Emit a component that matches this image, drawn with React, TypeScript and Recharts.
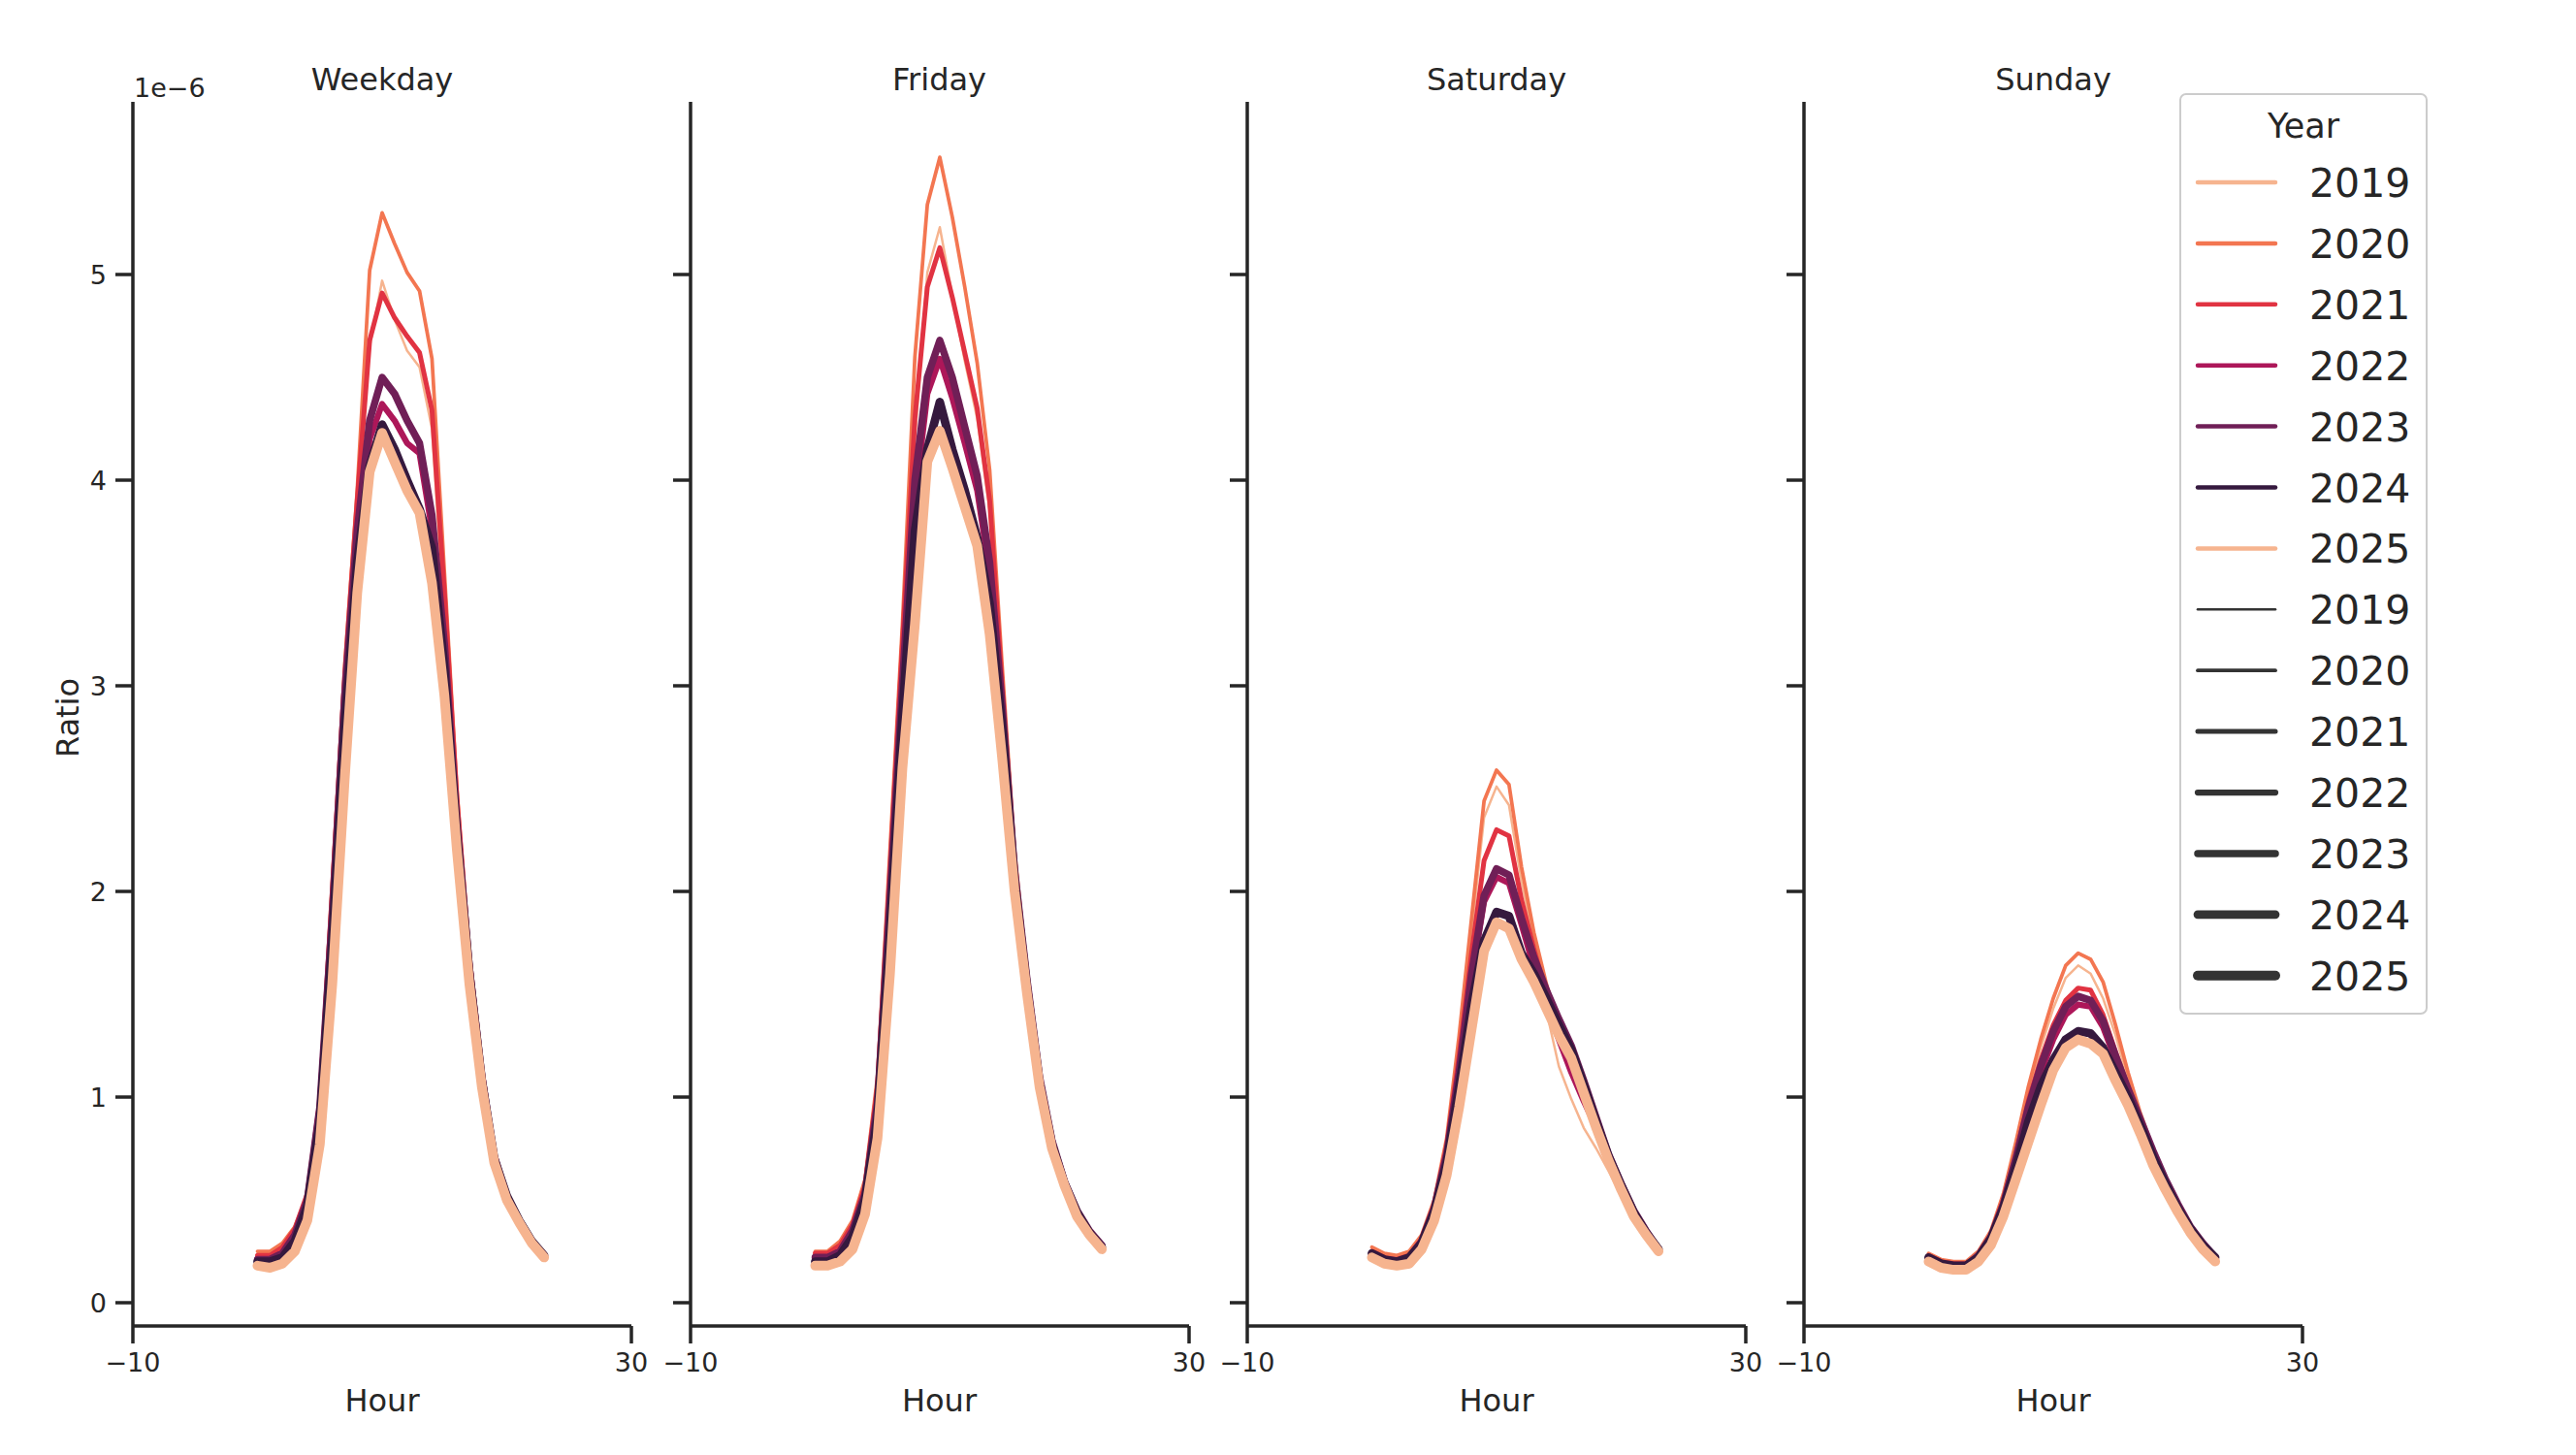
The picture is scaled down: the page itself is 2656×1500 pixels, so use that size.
import React from "react"
import { LineChart, Line, XAxis, YAxis } from "recharts"

// hour of day on the x axis
const hours = [0, 1, 2, 3, 4, 5, 6, 7, 8, 9, 10, 11, 12, 13, 14, 15, 16, 17, 18, 19, 20, 21, 22, 23]
const years = ["2019", "2020", "2021", "2022", "2023", "2024", "2025"]
const yearColors = ["#f6b48f", "#f37651", "#e13342", "#ad1759", "#701f57", "#35193e", "#f6b48f"]
const yearWidths = [2.5, 3.75, 5, 6.25, 7.5, 8.75, 10]
const panelTitles = ["Weekday", "Friday", "Saturday", "Sunday"]
const xTicks = [-10, 30]
const yTicks = [0, 1, 2, 3, 4, 5]

// ratio values (x 1e-6), one row per year 2019..2025
const weekdayRatio = [
    [0.22, 0.21, 0.25, 0.34, 0.55, 1.0, 1.95, 3.0, 3.85, 4.65, 4.97, 4.78, 4.63, 4.55, 4.25, 3.3, 2.4, 1.65, 1.12, 0.72, 0.52, 0.4, 0.3, 0.24],
    [0.25, 0.25, 0.29, 0.37, 0.52, 1.0, 2.05, 3.1, 3.95, 5.02, 5.3, 5.15, 5.01, 4.92, 4.59, 3.55, 2.5, 1.7, 1.15, 0.74, 0.53, 0.4, 0.3, 0.24],
    [0.23, 0.23, 0.27, 0.36, 0.53, 0.98, 2.0, 3.05, 3.9, 4.68, 4.91, 4.79, 4.7, 4.62, 4.34, 3.45, 2.45, 1.68, 1.14, 0.73, 0.53, 0.4, 0.3, 0.24],
    [0.21, 0.21, 0.24, 0.33, 0.5, 0.93, 1.85, 2.85, 3.7, 4.2, 4.37, 4.29, 4.18, 4.13, 3.76, 3.15, 2.3, 1.62, 1.1, 0.71, 0.52, 0.4, 0.3, 0.23],
    [0.21, 0.21, 0.24, 0.33, 0.5, 0.95, 1.88, 2.95, 3.75, 4.29, 4.5, 4.42, 4.29, 4.18, 3.83, 3.2, 2.33, 1.63, 1.1, 0.71, 0.52, 0.4, 0.3, 0.23],
    [0.2, 0.2, 0.22, 0.3, 0.47, 0.88, 1.75, 2.8, 3.6, 4.07, 4.27, 4.15, 4.0, 3.86, 3.67, 3.08, 2.27, 1.6, 1.08, 0.7, 0.52, 0.4, 0.3, 0.23],
    [0.18, 0.17, 0.19, 0.25, 0.4, 0.77, 1.55, 2.55, 3.45, 4.04, 4.23, 4.09, 3.95, 3.84, 3.5, 2.95, 2.2, 1.55, 1.05, 0.68, 0.5, 0.39, 0.29, 0.22],
]

const fridayRatio = [
    [0.23, 0.23, 0.27, 0.36, 0.55, 1.0, 2.0, 3.1, 4.2, 5.01, 5.23, 4.9, 4.58, 4.3, 3.85, 2.95, 2.1, 1.55, 1.08, 0.77, 0.57, 0.43, 0.34, 0.27],
    [0.25, 0.25, 0.3, 0.4, 0.6, 1.1, 2.2, 3.3, 4.6, 5.34, 5.57, 5.28, 4.94, 4.57, 4.05, 3.1, 2.2, 1.6, 1.1, 0.78, 0.58, 0.44, 0.34, 0.27],
    [0.24, 0.24, 0.28, 0.38, 0.57, 1.05, 2.1, 3.2, 4.3, 4.94, 5.13, 4.89, 4.62, 4.35, 3.9, 3.0, 2.15, 1.58, 1.1, 0.78, 0.58, 0.44, 0.34, 0.27],
    [0.21, 0.21, 0.24, 0.34, 0.52, 0.95, 1.9, 2.95, 3.9, 4.42, 4.59, 4.4, 4.18, 3.95, 3.55, 2.85, 2.08, 1.55, 1.08, 0.77, 0.58, 0.44, 0.34, 0.27],
    [0.22, 0.22, 0.25, 0.35, 0.53, 0.97, 1.95, 3.0, 4.0, 4.5, 4.68, 4.5, 4.26, 4.02, 3.6, 2.9, 2.1, 1.57, 1.1, 0.79, 0.59, 0.45, 0.35, 0.28],
    [0.2, 0.2, 0.23, 0.32, 0.5, 0.9, 1.8, 2.85, 3.75, 4.15, 4.38, 4.15, 3.95, 3.72, 3.4, 2.8, 2.05, 1.53, 1.07, 0.77, 0.58, 0.44, 0.34, 0.27],
    [0.18, 0.18, 0.2, 0.26, 0.43, 0.8, 1.6, 2.6, 3.3, 4.09, 4.24, 4.06, 3.87, 3.68, 3.25, 2.65, 2.0, 1.5, 1.05, 0.75, 0.57, 0.42, 0.33, 0.26],
]

const saturdayRatio = [
    [0.26, 0.23, 0.22, 0.24, 0.32, 0.49, 0.78, 1.25, 1.8, 2.36, 2.51, 2.42, 2.05, 1.75, 1.42, 1.15, 0.99, 0.85, 0.75, 0.64, 0.52, 0.4, 0.31, 0.24],
    [0.27, 0.24, 0.23, 0.25, 0.33, 0.5, 0.8, 1.3, 1.87, 2.44, 2.59, 2.52, 2.12, 1.8, 1.55, 1.35, 1.2, 1.03, 0.86, 0.69, 0.55, 0.42, 0.33, 0.25],
    [0.25, 0.22, 0.21, 0.23, 0.31, 0.48, 0.76, 1.2, 1.7, 2.15, 2.3, 2.27, 1.96, 1.72, 1.5, 1.33, 1.2, 1.04, 0.87, 0.7, 0.56, 0.43, 0.34, 0.25],
    [0.23, 0.2, 0.2, 0.22, 0.29, 0.45, 0.7, 1.1, 1.58, 1.95, 2.07, 2.04, 1.84, 1.63, 1.45, 1.28, 1.12, 0.98, 0.85, 0.7, 0.56, 0.44, 0.34, 0.26],
    [0.24, 0.21, 0.2, 0.22, 0.3, 0.46, 0.72, 1.12, 1.6, 1.98, 2.11, 2.08, 1.87, 1.68, 1.52, 1.38, 1.25, 1.08, 0.9, 0.72, 0.58, 0.45, 0.35, 0.26],
    [0.24, 0.21, 0.2, 0.22, 0.29, 0.44, 0.68, 1.05, 1.45, 1.76, 1.9, 1.88, 1.7, 1.6, 1.48, 1.35, 1.23, 1.06, 0.88, 0.71, 0.57, 0.44, 0.34, 0.26],
    [0.22, 0.19, 0.18, 0.19, 0.26, 0.4, 0.62, 0.95, 1.33, 1.71, 1.85, 1.82, 1.67, 1.56, 1.43, 1.3, 1.19, 1.02, 0.85, 0.69, 0.55, 0.42, 0.33, 0.25],
]

const sundayRatio = [
    [0.23, 0.2, 0.19, 0.19, 0.24, 0.34, 0.51, 0.75, 1.01, 1.24, 1.43, 1.58, 1.64, 1.6, 1.48, 1.3, 1.08, 0.9, 0.74, 0.6, 0.47, 0.36, 0.28, 0.21],
    [0.24, 0.21, 0.2, 0.2, 0.25, 0.35, 0.53, 0.78, 1.05, 1.28, 1.48, 1.64, 1.7, 1.67, 1.56, 1.35, 1.12, 0.92, 0.75, 0.6, 0.47, 0.36, 0.28, 0.21],
    [0.23, 0.2, 0.19, 0.19, 0.23, 0.33, 0.5, 0.72, 0.98, 1.18, 1.35, 1.47, 1.53, 1.52, 1.4, 1.22, 1.05, 0.89, 0.73, 0.6, 0.47, 0.36, 0.28, 0.21],
    [0.22, 0.19, 0.18, 0.18, 0.22, 0.31, 0.47, 0.69, 0.93, 1.12, 1.28, 1.4, 1.45, 1.44, 1.34, 1.18, 1.02, 0.87, 0.72, 0.59, 0.47, 0.36, 0.28, 0.22],
    [0.22, 0.19, 0.18, 0.18, 0.23, 0.32, 0.48, 0.7, 0.95, 1.15, 1.32, 1.44, 1.49, 1.47, 1.37, 1.2, 1.04, 0.89, 0.74, 0.6, 0.48, 0.37, 0.29, 0.22],
    [0.22, 0.19, 0.18, 0.18, 0.22, 0.31, 0.46, 0.66, 0.88, 1.05, 1.18, 1.28, 1.32, 1.31, 1.24, 1.12, 1.0, 0.86, 0.71, 0.58, 0.46, 0.36, 0.28, 0.22],
    [0.2, 0.17, 0.16, 0.16, 0.2, 0.28, 0.42, 0.6, 0.78, 0.96, 1.13, 1.24, 1.28, 1.26, 1.21, 1.08, 0.96, 0.82, 0.67, 0.55, 0.44, 0.34, 0.26, 0.2],
]

const panelValues = [weekdayRatio, fridayRatio, saturdayRatio, sundayRatio]

// layout (page pixels)
const INK = "#262626"
const FONT = "'DejaVu Sans', sans-serif"
const PANEL_LEFTS = [137, 711.5, 1286, 1860]
const PLOT_W = 514
const PLOT_TOP = 105
const PLOT_BOTTOM = 1367
const Y_DOMAIN: [number, number] = [-0.1132, 5.8396]
const Y_AXIS_W = 120
const X_AXIS_H = 70
const RIGHT_PAD = 40
const SPINE_W = 3.5

function Panel({ index }: { index: number }) {
    const values = panelValues[index]
    const data = hours.map((h, i) => {
        const row: Record<string, number> = { hour: h }
        years.forEach((y, k) => {
            row["y" + y] = values[k][i]
        })
        return row
    })
    const left = PANEL_LEFTS[index]
    const showLabels = index === 0

    return (
        <div style={{ position: "absolute", left: left - Y_AXIS_W, top: 0 }}>
            <LineChart
                width={Y_AXIS_W + PLOT_W + RIGHT_PAD}
                height={1500}
                data={data}
                margin={{ top: PLOT_TOP, right: RIGHT_PAD, left: 0, bottom: 1500 - PLOT_BOTTOM - X_AXIS_H }}
            >
                <XAxis
                    dataKey="hour"
                    type="number"
                    domain={[-10, 30]}
                    ticks={xTicks}
                    allowDataOverflow
                    height={X_AXIS_H}
                    tickSize={18}
                    tickMargin={10}
                    interval={0}
                    tickFormatter={(v: number) => String(v).replace("-", "\u2212")}
                    axisLine={{ stroke: INK, strokeWidth: SPINE_W }}
                    tickLine={{ stroke: INK, strokeWidth: SPINE_W }}
                    tick={{ fill: INK, fontSize: 27, fontFamily: FONT }}
                />
                <YAxis
                    type="number"
                    domain={Y_DOMAIN}
                    ticks={yTicks}
                    allowDataOverflow
                    width={Y_AXIS_W}
                    tickSize={18}
                    tickMargin={9}
                    interval={0}
                    tickFormatter={(v: number) => (showLabels ? String(v) : "")}
                    axisLine={{ stroke: INK, strokeWidth: SPINE_W }}
                    tickLine={{ stroke: INK, strokeWidth: SPINE_W }}
                    tick={{ fill: INK, fontSize: 27, fontFamily: FONT }}
                />
                {years.map((y, k) => (
                    <Line
                        key={y}
                        type="linear"
                        dataKey={"y" + y}
                        stroke={yearColors[k]}
                        strokeWidth={yearWidths[k]}
                        strokeLinecap="round"
                        strokeLinejoin="round"
                        dot={false}
                        activeDot={false}
                        isAnimationActive={false}
                    />
                ))}
            </LineChart>
        </div>
    )
}

function Overlay() {
    const legendX = 2248
    const legendTop = 97
    const firstRow = 188
    const rowGap = 62.9
    const entries = [
        ...years.map((y, k) => ({ label: y, color: yearColors[k], width: 4.5 })),
        ...years.map((y, k) => ({ label: y, color: "#333333", width: yearWidths[k] })),
    ]
    return (
        <svg
            width={2656}
            height={1500}
            style={{ position: "absolute", left: 0, top: 0, pointerEvents: "none" }}
            fontFamily={FONT}
        >
            {panelTitles.map((t, i) => (
                <g key={t}>
                    <text x={PANEL_LEFTS[i] + PLOT_W / 2} y={93} textAnchor="middle" fontSize={32} fill={INK}>
                        {t}
                    </text>
                    <text x={PANEL_LEFTS[i] + PLOT_W / 2} y={1455} textAnchor="middle" fontSize={32} fill={INK}>
                        Hour
                    </text>
                </g>
            ))}
            <text x={138} y={100} fontSize={27} fill={INK}>
                1e{"\u2212"}6
            </text>
            <text x={81} y={740} textAnchor="middle" fontSize={32} fill={INK} transform="rotate(-90, 81, 740)">
                Ratio
            </text>

            <rect x={legendX} y={legendTop} width={254} height={948} rx={6} fill="#ffffff" fillOpacity={0.8} stroke="#cccccc" strokeWidth={2} />
            <text x={legendX + 127} y={142} textAnchor="middle" fontSize={35} fill={INK}>
                Year
            </text>
            {entries.map((e, i) => {
                const cy = firstRow + i * rowGap
                return (
                    <g key={i}>
                        <line x1={2266} x2={2346} y1={cy} y2={cy} stroke={e.color} strokeWidth={e.width} strokeLinecap="round" />
                        <text x={2381} y={cy + 15} fontSize={41} fill={INK}>
                            {e.label}
                        </text>
                    </g>
                )
            })}
        </svg>
    )
}

export default function App() {
    return (
        <div style={{ position: "absolute", left: 0, top: 0, width: 2656, height: 1500, background: "#ffffff" }}>
            {panelTitles.map((t, i) => (
                <Panel key={t} index={i} />
            ))}
            <Overlay />
        </div>
    )
}
